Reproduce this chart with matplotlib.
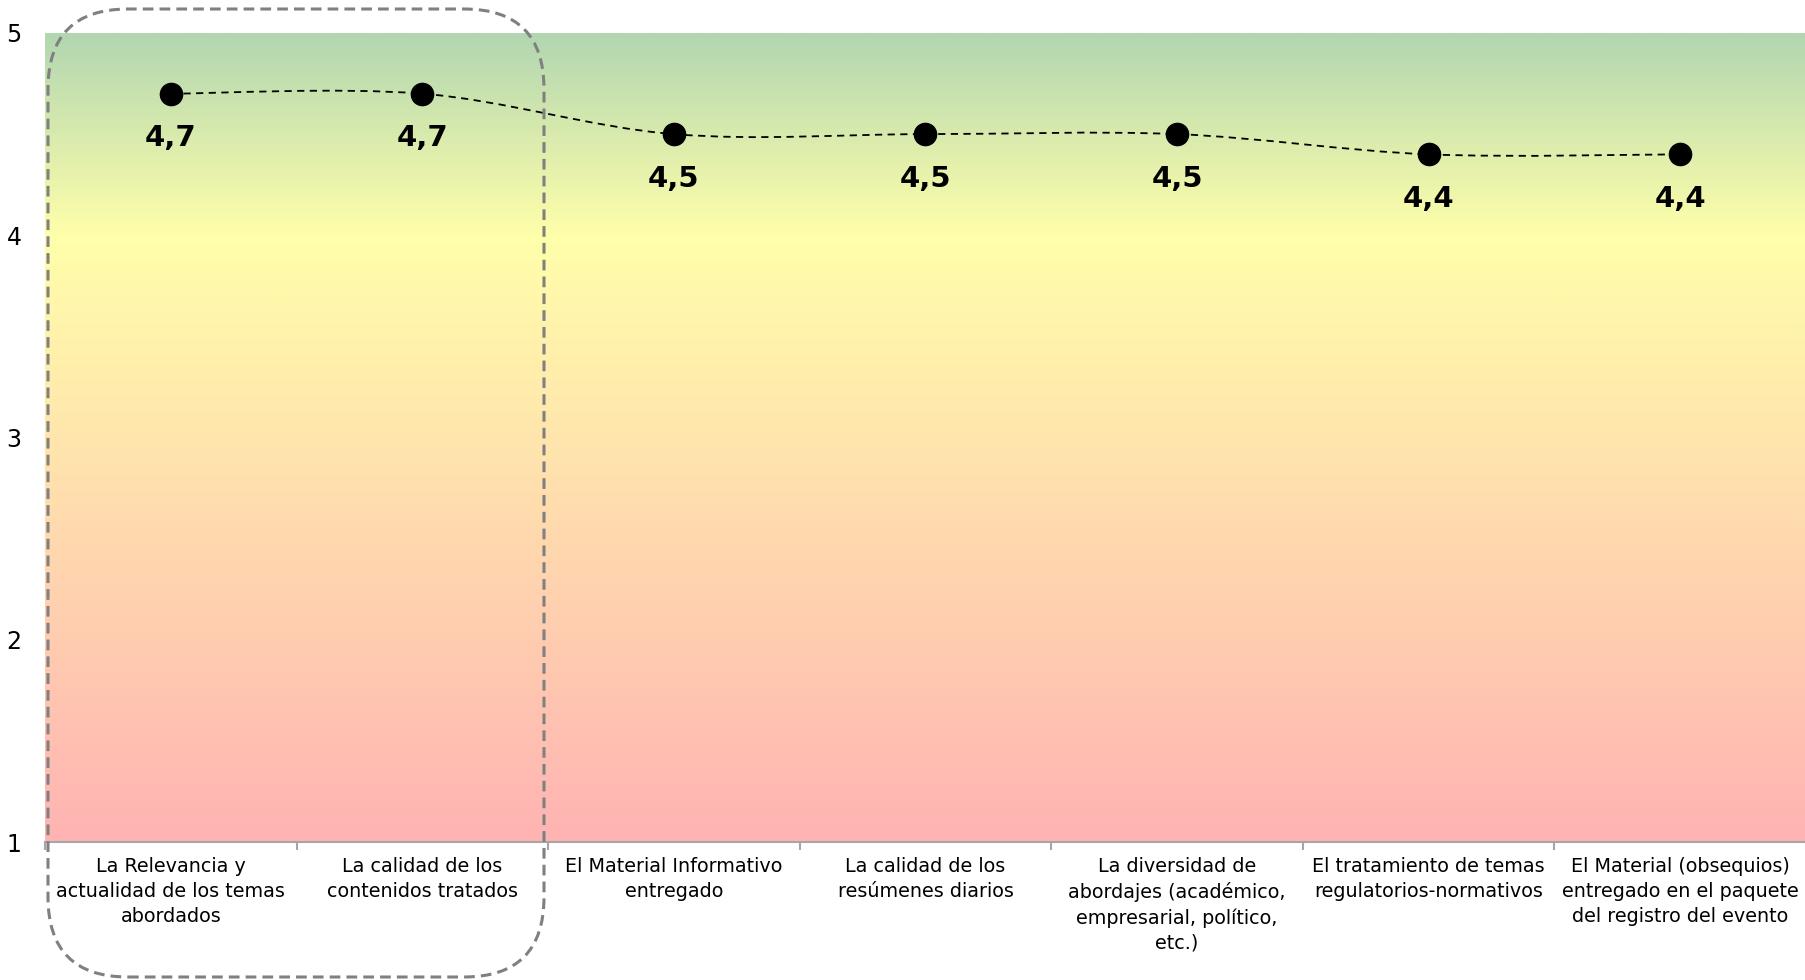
# -*- coding: utf-8 -*-
"""
Valoración de los contenidos: puntos sobre un fondo en degradado (verde-amarillo-rosa).
"""

import matplotlib
matplotlib.use("Agg")

import matplotlib.pyplot as plt
import numpy as np
from matplotlib.colors import LinearSegmentedColormap
from matplotlib.patches import FancyBboxPatch, PathPatch
from matplotlib.path import Path

# Datos.
categorias = [
    "La Relevancia y\nactualidad de los temas\nabordados",
    "La calidad de los\ncontenidos tratados",
    "El Material Informativo\nentregado",
    "La calidad de los\nresúmenes diarios",
    "La diversidad de\nabordajes (académico,\nempresarial, político,\netc.)",
    "El tratamiento de temas\nregulatorios-normativos",
    "El Material (obsequios)\nentregado en el paquete\ndel registro del evento",
]
valores = [4.7, 4.7, 4.5, 4.5, 4.5, 4.4, 4.4]
y_ticks = [1, 2, 3, 4, 5]

plt.rcParams["font.family"] = ["DejaVu Sans"]


def curva_suave(xs, ys):
    """Línea suavizada tipo Excel (Bezier por tramos, estilo Catmull-Rom)."""
    pts = np.column_stack([xs, ys]).astype(float)
    n = len(pts)
    verts = [pts[0]]
    codes = [Path.MOVETO]
    for i in range(n - 1):
        p0 = pts[i - 1] if i > 0 else pts[i]
        p1 = pts[i]
        p2 = pts[i + 1]
        p3 = pts[i + 2] if i + 2 < n else pts[i + 1]
        c1 = p1 + (p2 - p0) / 6.0
        c2 = p2 - (p3 - p1) / 6.0
        verts += [c1, c2, p2]
        codes += [Path.CURVE4] * 3
    return Path(verts, codes)


def main():
    fig = plt.figure(figsize=(18.06, 9.8), dpi=100)
    W, H = 1806, 980
    left, right, top, bottom = 45, 1806, 33, 842
    ax = fig.add_axes([left / W, (H - bottom) / H, (right - left) / W, (bottom - top) / H])

    x = np.arange(len(categorias))
    ax.set_xlim(-0.5, len(categorias) - 0.5)
    ax.set_ylim(1, 5)

    # Fondo en degradado: verde arriba, amarillo en 4, rosa abajo.
    cmap = LinearSegmentedColormap.from_list(
        "fondo",
        [(0.0, "#ffb3b3"), (0.75, "#ffffaa"), (1.0, "#b1d6b1")],
    )
    grad = np.linspace(0, 1, 512).reshape(-1, 1)
    ax.imshow(grad, cmap=cmap, aspect="auto", origin="lower",
              extent=(-0.5, len(categorias) - 0.5, 1, 5), zorder=0)

    # Línea punteada suavizada y puntos.
    ax.add_patch(PathPatch(curva_suave(x, valores), fill=False, color="black",
                           lw=1.3, linestyle=(0, (4, 3)), zorder=2))
    ax.plot(x, valores, "o", color="black", ms=16, zorder=3)

    for xi, v in zip(x, valores):
        ax.annotate(f"{v:.1f}".replace(".", ","), (xi, v), xytext=(0, -32),
                    textcoords="offset points", ha="center", va="center",
                    fontsize=21, fontweight="bold")

    # Ejes.
    for lado in ["top", "right", "left"]:
        ax.spines[lado].set_visible(False)
    ax.spines["bottom"].set_color("#a6a6a6")
    ax.spines["bottom"].set_linewidth(1.5)

    ax.set_yticks(y_ticks)
    ax.tick_params(axis="y", length=0, pad=17, labelsize=17)

    ax.set_xticks(np.arange(-0.5, len(categorias)), minor=False)
    ax.set_xticklabels([])
    ax.tick_params(axis="x", which="major", direction="out", length=6,
                   color="#a6a6a6", width=1.5)
    ax.set_xticks(x, minor=True)
    ax.set_xticklabels(categorias, minor=True, fontsize=13.8, linespacing=1.38,
                       va="top")
    ax.tick_params(axis="x", which="minor", length=0, pad=11)

    # Rectángulo redondeado punteado sobre las dos primeras categorías.
    caja = FancyBboxPatch((0.48, 0.03), 4.96, 9.68,
                          boxstyle="round,pad=0,rounding_size=0.8",
                          transform=fig.dpi_scale_trans, fill=False,
                          edgecolor="#808080", lw=2.2, linestyle=(0, (3.5, 2)),
                          clip_on=False, zorder=5)
    fig.add_artist(caja)

    fig.savefig("out.png", dpi=100)
    plt.close(fig)


if __name__ == "__main__":
    main()
